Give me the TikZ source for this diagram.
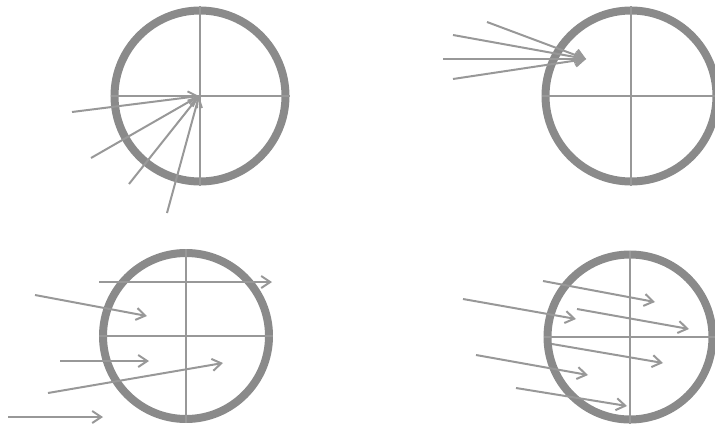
\documentclass[tikz,border=0pt]{standalone}
\usetikzlibrary{arrows.meta}
\definecolor{ringgray}{RGB}{138,138,138}
\definecolor{linegray}{RGB}{152,152,152}

\begin{document}
\begin{tikzpicture}[
  x=1pt, y=-1pt,
  ring/.style = {circle, draw=ringgray, line width=8pt, inner sep=0pt, minimum size=#1},
  hair/.style = {draw=linegray, line width=2pt},
  ray/.style  = {-{Straight Barb[length=9pt,width=12pt]}, draw=linegray, line width=2pt},
]
\useasboundingbox (0,0) rectangle (715,428);

% the four targets
\node[ring=171pt] (tl) at (200,96) {};
\node[ring=171pt] (tr) at (631,96) {};
\node[ring=166pt] (bl) at (186,336) {};
\node[ring=165pt] (br) at (630,337) {};

\foreach \t in {tl,tr,bl,br} {
  \draw[hair] (\t.north) -- (\t.south);
  \draw[hair] (\t.west) -- (\t.east);
}

% converging rays
\coordinate (hubl) at (199,96);
\coordinate (hubr) at (586,59);
\foreach \x/\y in {72/112, 91/158, 129/184, 167/213}
  \draw[ray] (\x,\y) -- (hubl);
\foreach \x/\y in {487/22, 453/35, 443/59, 453/79}
  \draw[ray] (\x,\y) -- (hubr);

% parallel-ish rays
\foreach \xa/\ya/\xb/\yb in {99/282/272/282, 35/295/147/316, 60/361/149/361,
                              48/393/223/363, 8/417/103/417}
  \draw[ray] (\xa,\ya) -- (\xb,\yb);
\foreach \xa/\ya/\xb/\yb in {543/281/655/302, 463/299/576/319, 577/309/689/329,
                              552/344/663/363, 476/355/588/375, 516/388/627/406}
  \draw[ray] (\xa,\ya) -- (\xb,\yb);

\end{tikzpicture}
\end{document}
